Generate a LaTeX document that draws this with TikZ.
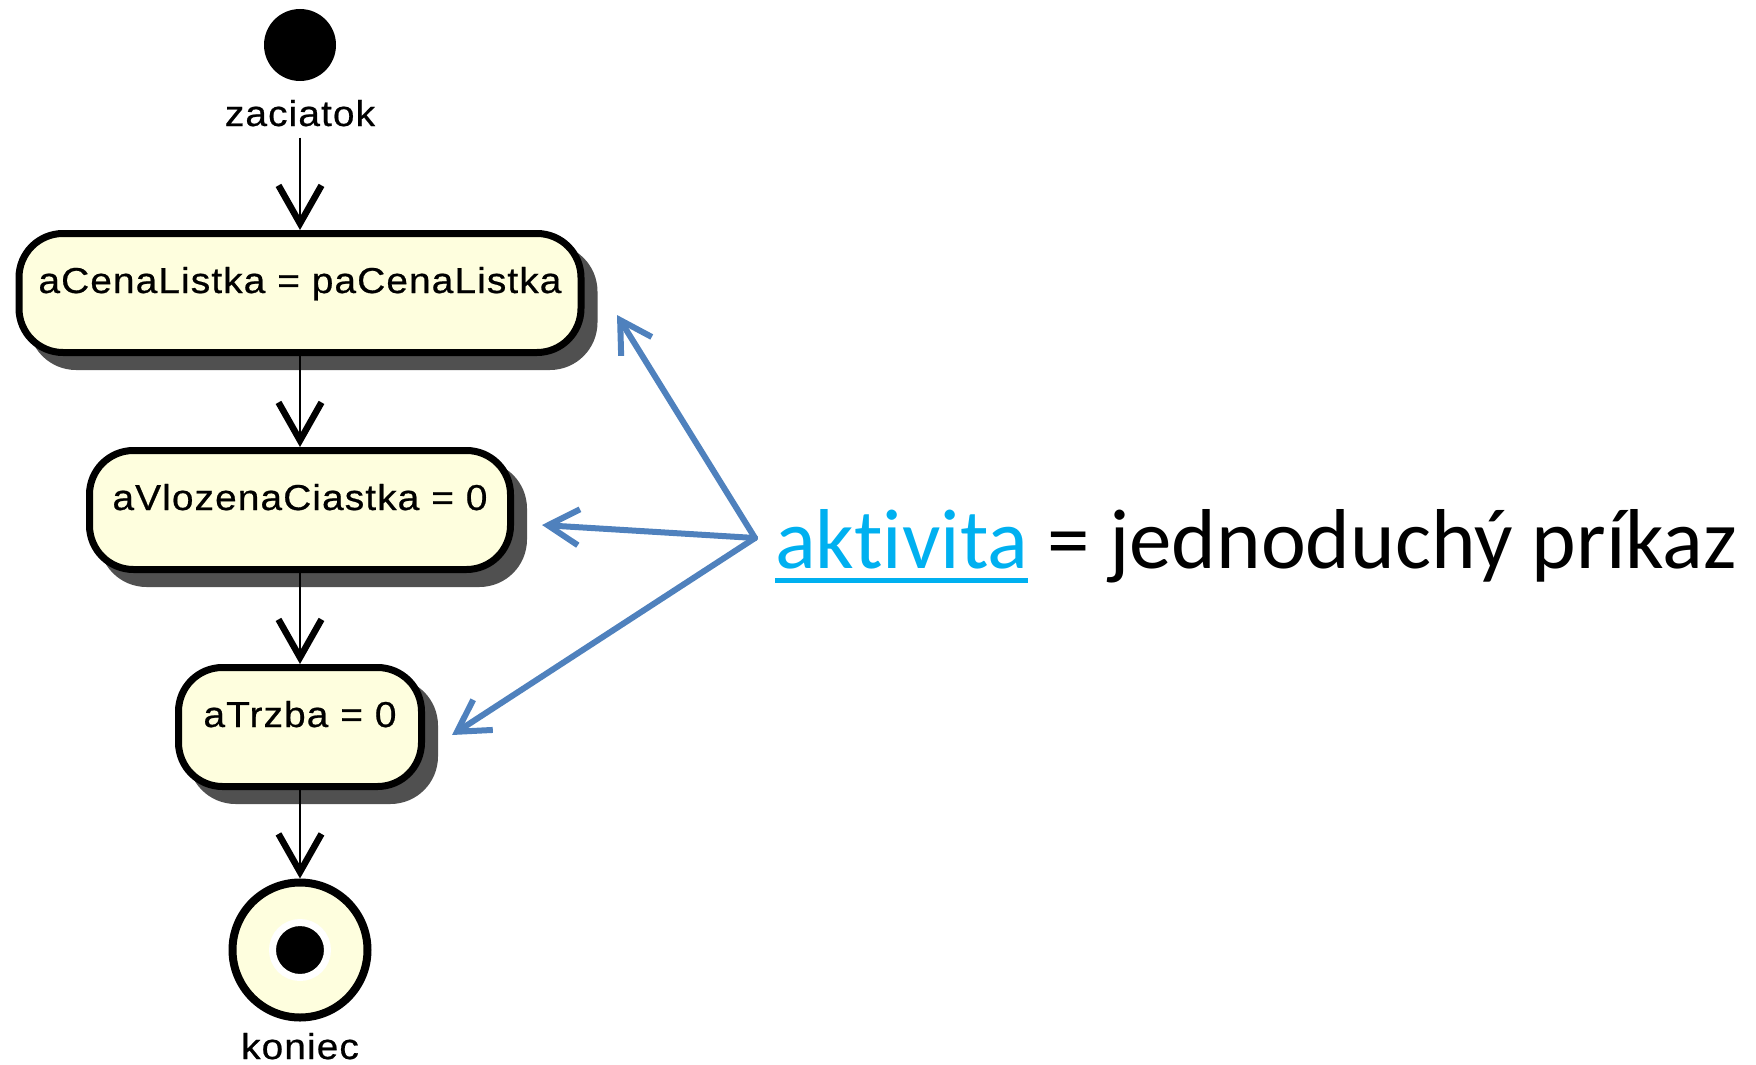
\documentclass[tikz,border=0pt]{standalone}
\usepackage{fontspec}
\usetikzlibrary{arrows.meta,backgrounds}
\newfontfamily\umlfont[FakeStretch=1.08,LetterSpace=3,FakeBold=0.6]{Liberation Sans}
\newfontfamily\calfont[Ligatures=NoCommon]{Carlito}
\definecolor{actfill}{HTML}{FEFEDE}
\definecolor{shadowgray}{HTML}{505050}
\definecolor{linkblue}{HTML}{00B0F0}
\definecolor{callblue}{HTML}{4F81BD}
\begin{document}
\begin{tikzpicture}[x=1pt,y=-1pt,
  umltext/.style={font=\umlfont\fontsize{36}{42}\selectfont, inner sep=0pt},
  action/.style={draw=black, line width=7pt, fill=actfill, rounded corners=44pt,
    minimum height=119pt, text height=9pt, text depth=9pt, inner sep=0pt,
    font=\umlfont\fontsize{36}{42}\selectfont},
  flow/.style={line width=2.5pt, -{Straight Barb[length=38pt,width=43pt,line width=6.5pt]}},
  callout/.style={callblue, line width=6pt, line cap=round,
    -{Straight Barb[length=31pt,width=36pt,line width=6pt]}},
  bigtext/.style={font=\calfont\fontsize{85}{100}\selectfont, inner sep=0pt, anchor=base west},
]
\useasboundingbox (0,0) rectangle (1756,1065);

% start
\node[circle, fill=black, minimum size=72pt, inner sep=0pt] (start) at (300,45) {};
\node[umltext, anchor=base] (lstart) at (300,126) {zaciatok};

% actions
\node[action, minimum width=562pt] (b1) at (300,293) {aCenaListka = paCenaListka};
\node[action, minimum width=421pt] (b2) at (300,510) {aVlozenaCiastka = 0};
\node[action, minimum width=243pt] (b3) at (300,727) {aTrzba = 0};

\begin{scope}[on background layer]
  \foreach \n in {b1,b2,b3}
    \fill[shadowgray, rounded corners=47.5pt]
      ([shift={(13,14)}]\n.north west) rectangle ([shift={(13,14)}]\n.south east);
\end{scope}

% end
\node[circle, draw=black, line width=8pt, fill=actfill, minimum size=135pt, inner sep=0pt] (end) at (300,950) {};
\node[circle, fill=black, draw=white, line width=7pt, minimum size=55pt, inner sep=0pt] (enddot) at (end.center) {};
\node[umltext, anchor=base] (lend) at (300,1059) {koniec};

% flows
\draw[flow, shorten <=11pt] (lstart.south) -- (b1);
\draw[flow] (b1) -- (b2);
\draw[flow] (b2) -- (b3);
\draw[flow] (b3) -- (end);

% callout text
\node[bigtext, text=linkblue] (akt) at (775,568) {aktivita};
\node[bigtext, text=black] (rest) at ([xshift=19pt]akt.base east) {= jednoduchý príkaz};
\draw[linkblue, line width=5pt] ([yshift=-12pt]akt.south west) -- ([yshift=-12pt]akt.south east);

% callout arrows
\coordinate (hub) at (755,538);
\coordinate (t1) at (617,315);
\coordinate (t2) at (542,525);
\coordinate (t3) at (452,735);
\draw[callout] (hub) -- (t1);
\draw[callout] (hub) -- (t2);
\draw[callout] (hub) -- (t3);
\end{tikzpicture}
\end{document}
